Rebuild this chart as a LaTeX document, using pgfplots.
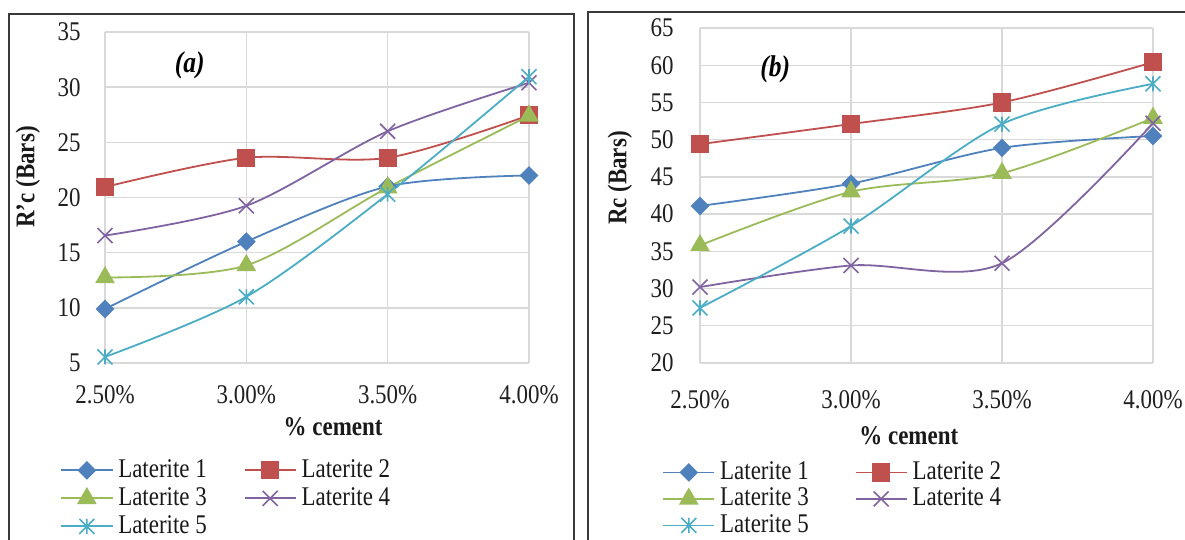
\documentclass[border=0pt]{standalone}
\usepackage{fontspec}
\setmainfont{Liberation Serif}[FakeStretch=0.85]
\usepackage{pgfplots}
\pgfplotsset{compat=1.18}

\definecolor{c1}{HTML}{4F81BD}
\definecolor{c2}{HTML}{C0504D}
\definecolor{c3}{HTML}{9BBB59}
\definecolor{c4}{HTML}{8064A2}
\definecolor{c5}{HTML}{4BACC6}
\definecolor{gridc}{HTML}{D9D9D9}
\definecolor{framec}{HTML}{3A3A3A}

\pgfdeclareplotmark{xstar}{%
  \pgfpathmoveto{\pgfqpoint{0pt}{\pgfplotmarksize}}%
  \pgfpathlineto{\pgfqpoint{0pt}{-\pgfplotmarksize}}%
  \pgfpathmoveto{\pgfqpoint{-\pgfplotmarksize}{-\pgfplotmarksize}}%
  \pgfpathlineto{\pgfqpoint{\pgfplotmarksize}{\pgfplotmarksize}}%
  \pgfpathmoveto{\pgfqpoint{-\pgfplotmarksize}{\pgfplotmarksize}}%
  \pgfpathlineto{\pgfqpoint{\pgfplotmarksize}{-\pgfplotmarksize}}%
  \pgfusepathqstroke}

\pgfplotsset{
  mystyle/.style={
    scale only axis,
    xmin=0, xmax=3,
    xtick={0,1,2,3},
    xticklabels={2.50\%,3.00\%,3.50\%,4.00\%},
    ytick distance=5,
    axis line style={draw=none},
    major tick length=0pt,
    tick style={draw=none},
    grid=major,
    grid style={draw=gridc, line width=0.7pt},
    /pgf/number format/assume math mode=true,
    tick label style={font=\fontsize{13.5}{15}\selectfont, text=black!88},
    label style={font=\bfseries\fontsize{13.5}{15}\selectfont, text=black!90},
    legend columns=2,
    legend cell align=left,
    legend style={draw=none, fill=none, inner sep=0pt,
      font=\fontsize{13.5}{15}\selectfont,
      nodes={inner sep=0pt, text height=9.5pt, text depth=2.5pt, text=black!90},
      /tikz/every odd column/.append style={column sep=2.5pt}},
    legend image code/.code={\draw[mark repeat=2,mark phase=2,#1] plot coordinates {(0pt,0pt) (12.75pt,0pt) (25.5pt,0pt)};},
  },
  s1/.style={c1, line width=0.9pt, smooth, mark=square*, mark size=2.85pt, mark options={rotate=45, solid, fill=c1}},
  s2/.style={c2, line width=0.9pt, smooth, mark=square*, mark size=4.1pt, mark options={solid, fill=c2}},
  s3/.style={c3, line width=0.9pt, smooth, mark=triangle*, mark size=4.8pt, mark options={solid, fill=c3}},
  s4/.style={c4, line width=0.9pt, smooth, mark=x, mark size=5.3pt, mark options={solid, line width=0.8pt}},
  s5/.style={c5, line width=0.9pt, smooth, mark=xstar, mark size=3.75pt, mark options={solid, line width=0.8pt}},
}

\begin{document}
\begin{tikzpicture}
\useasboundingbox (0,0) rectangle (592.5pt,270pt);
\begin{scope}
\clip (0,0) rectangle (592.5pt,270pt);
\draw[framec, line width=1.3pt] (4.5pt,-2pt) -- (4.5pt,263pt) -- (287pt,263pt) -- (287pt,-2pt);
\draw[framec, line width=1.3pt] (294pt,-2pt) -- (294pt,264pt) -- (600pt,264pt);
\end{scope}

% ---------- (a) ----------
\begin{axis}[mystyle,
  at={(52.5pt,88.5pt)}, anchor=south west,
  width=212pt, height=165.5pt,
  ymin=5, ymax=35,
  yticklabel style={inner sep=0pt, xshift=-12pt},
  xticklabel style={inner sep=0pt, anchor=center, yshift=-16pt},
  xlabel={\% cement},
  xlabel style={at={(axis description cs:0.538,-0.1918)}, anchor=center},
  ylabel={R'c (Bars)},
  ylabel style={at={(axis description cs:-0.1816,0.562)}, anchor=center},
  legend style={at={(axis description cs:-0.106,-0.287)}, anchor=north west,
    row sep=2pt, /tikz/every even column/.append style={column sep=18.5pt}},
]
\addplot[s1] coordinates {(0,9.9) (1,16.0) (2,21.0) (3,22.0)};
\addlegendentry{Laterite 1}
\addplot[s2] coordinates {(0,20.95) (1,23.6) (2,23.6) (3,27.45)};
\addlegendentry{Laterite 2}
\addplot[s3] coordinates {(0,12.75) (1,13.85) (2,20.9) (3,27.4)};
\addlegendentry{Laterite 3}
\addplot[s4] coordinates {(0,16.55) (1,19.25) (2,26.0) (3,30.4)};
\addlegendentry{Laterite 4}
\addplot[s5] coordinates {(0,5.55) (1,11.0) (2,20.3) (3,30.95)};
\addlegendentry{Laterite 5}
\node[font=\bfseries\itshape\fontsize{15}{17}\selectfont, text=black] at (axis description cs:0.2,0.899) {(a)};
\end{axis}

% ---------- (b) ----------
\begin{axis}[mystyle,
  at={(350pt,88.5pt)}, anchor=south west,
  width=226.5pt, height=167.5pt,
  ymin=20, ymax=65,
  yticklabel style={inner sep=0pt, xshift=-13pt},
  xticklabel style={inner sep=0pt, anchor=center, yshift=-18.5pt},
  xlabel={\% cement},
  xlabel style={at={(axis description cs:0.461,-0.2167)}, anchor=center},
  ylabel={Rc (Bars)},
  ylabel style={at={(axis description cs:-0.1766,0.552)}, anchor=center},
  legend style={at={(axis description cs:-0.0839,-0.2896)}, anchor=north west,
    row sep=1.25pt, /tikz/every even column/.append style={column sep=23pt}},
]
\addplot[s1] coordinates {(0,41.1) (1,44.1) (2,48.9) (3,50.5)};
\addlegendentry{Laterite 1}
\addplot[s2] coordinates {(0,49.4) (1,52.1) (2,55.0) (3,60.4)};
\addlegendentry{Laterite 2}
\addplot[s3] coordinates {(0,35.8) (1,43.0) (2,45.5) (3,52.9)};
\addlegendentry{Laterite 3}
\addplot[s4] coordinates {(0,30.2) (1,33.1) (2,33.4) (3,52.2)};
\addlegendentry{Laterite 4}
\addplot[s5] coordinates {(0,27.4) (1,38.4) (2,52.1) (3,57.5)};
\addlegendentry{Laterite 5}
\node[font=\bfseries\itshape\fontsize{15}{17}\selectfont, text=black] at (axis description cs:0.166,0.878) {(b)};
\end{axis}
\end{tikzpicture}
\end{document}
